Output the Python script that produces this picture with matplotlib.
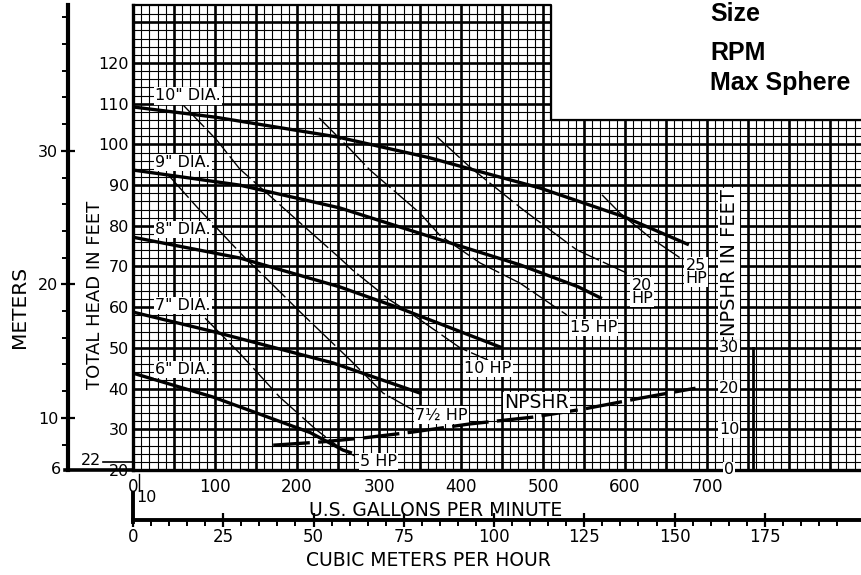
import matplotlib
matplotlib.use("Agg")
import matplotlib.pyplot as plt
import numpy as np

plt.rcParams['font.family'] = ['DejaVu Sans']

# head-capacity curve for each impeller diameter (US GPM, total head in feet)
dia_labels = ['10" DIA.', '9" DIA.', '8" DIA.', '7" DIA.', '6" DIA.']
dia_gpm = [
    [0, 100, 250, 362, 416, 496, 599, 676],
    [0, 130, 252, 374, 472, 543, 570],
    [0, 130, 252, 322, 448],
    [0, 98, 244, 350],
    [0, 98, 216, 256, 265],
]
dia_head = [
    [109.2, 106.7, 101.8, 96.7, 93.7, 89.3, 82.2, 75.5],
    [93.7, 90.0, 84.4, 76.6, 70.4, 65.0, 62.3],
    [77.2, 72.1, 65.0, 60.0, 50.2],
    [58.8, 54.0, 46.3, 38.9],
    [43.8, 37.9, 29.2, 24.9, 24.3],
]

# constant horsepower lines
hp_labels = ['5 HP', '7½ HP', '10 HP', '15 HP', '20\nHP', '25\nHP']
hp_gpm = [
    [88, 130, 179, 224, 256, 273],
    [43, 78, 139, 155, 204, 265, 305, 342],
    [61, 102, 130, 200, 252, 268, 313, 338, 399, 433],
    [227, 263, 289, 350, 374, 423, 472, 529],
    [371, 411, 476, 541, 602],
    [572, 594, 630, 671],
]
hp_head = [
    [57.3, 48.7, 37.9, 29.8, 24.9, 23.2],
    [92.5, 84.6, 71.6, 68.6, 58.8, 47.0, 38.9, 34.7],
    [109.7, 101.1, 94.0, 81.4, 72.1, 69.1, 61.8, 58.6, 50.0, 47.0],
    [106.5, 99.2, 93.7, 83.1, 77.7, 70.9, 65.9, 58.1],
    [101.8, 94.4, 83.9, 74.1, 68.4],
    [87.6, 83.1, 77.2, 71.6],
]

# NPSHR curve (feet)
npshr_gpm = [171, 230, 282, 340, 410, 488, 550, 620, 686]
npshr_ft = [6.1, 6.9, 7.9, 9.3, 11.3, 13.0, 15.0, 17.7, 20.1]

head_ticks = list(range(20, 130, 10))
gpm_ticks = list(range(0, 800, 100))
m3h_ticks = list(range(0, 200, 25))
meter_ticks = [10, 20, 30]
npshr_ticks = [0, 10, 20, 30]

# label spots
dia_lab_gpm = 27
dia_lab_head = [111.9, 95.5, 79.1, 60.4, 44.7]
hp_lab_pos = [(277, 22.0, 'left'), (344, 33.5, 'left'), (404, 45.0, 'left'),
              (533, 55.1, 'left'), (621, 63.7, 'center'), (687, 68.6, 'center')]

GPM_MAX = 889.0
HEAD_MIN, HEAD_MAX = 20.0, 134.25
STEP_GPM, STEP_HEAD = 510, 106
FT_TO_M = 0.3048
GPM_TO_M3H = 0.22712

fig = plt.figure(figsize=(8.62, 5.75), dpi=100)
ax = fig.add_axes([133 / 862, 105 / 575, 729 / 862, 465 / 575])
ax.set_xlim(0, GPM_MAX)
ax.set_ylim(HEAD_MIN, HEAD_MAX)

# graph paper: fine lines every 10 gpm / 2 ft, heavy every 50 gpm / 10 ft
for g in range(10, 890, 10):
    top = HEAD_MAX if g <= STEP_GPM else STEP_HEAD
    ax.plot([g, g], [HEAD_MIN, top], color='black',
            lw=1.9 if g % 50 == 0 else 0.8, zorder=1, solid_capstyle='butt')
for h in range(22, 134, 2):
    right = STEP_GPM if h > STEP_HEAD else GPM_MAX
    ax.plot([0, right], [h, h], color='black',
            lw=1.9 if h % 10 == 0 else 0.8, zorder=1, solid_capstyle='butt')
ax.plot([0, STEP_GPM, STEP_GPM, GPM_MAX], [HEAD_MAX, HEAD_MAX, STEP_HEAD, STEP_HEAD],
        color='black', lw=1.6, zorder=1, clip_on=False)

for s in ['top', 'right']:
    ax.spines[s].set_visible(False)
for s in ['left', 'bottom']:
    ax.spines[s].set_linewidth(2.4)

ax.set_xticks(gpm_ticks)
ax.set_yticks(head_ticks)
ax.tick_params(axis='both', length=0, labelsize=11.5)
ax.tick_params(axis='x', pad=6, labelsize=12)
ax.tick_params(axis='y', pad=3)

# curves
for gx, hy, lab, lh in zip(dia_gpm, dia_head, dia_labels, dia_lab_head):
    ax.plot(gx, hy, color='black', lw=2.4, zorder=3)
    ax.text(dia_lab_gpm, lh, lab, fontsize=11.5, ha='left', va='center', zorder=5,
            bbox=dict(facecolor='white', edgecolor='none', pad=0.8))

for gx, hy, lab, (lx, ly, ha) in zip(hp_gpm, hp_head, hp_labels, hp_lab_pos):
    ax.plot(gx, hy, color='black', lw=1.0, dashes=(22, 3), zorder=3)
    ax.text(lx, ly, lab, fontsize=11.5, ha=ha, va='center', zorder=5, linespacing=0.85,
            bbox=dict(facecolor='white', edgecolor='none', pad=0.8))

# NPSHR on its own scale (0 at the 20 ft line)
axn = ax.twinx()
axn.set_ylim(0, HEAD_MAX - HEAD_MIN)
axn.axis('off')
axn.plot(npshr_gpm, npshr_ft, color='black', lw=2.4, dashes=(11, 2.5), zorder=3)
axn.text(492, 16.5, 'NPSHR', fontsize=13.5, ha='center', va='center',
         bbox=dict(facecolor='white', edgecolor='none', pad=0.8))
axn.plot([756, 756], [0, 30], color='black', lw=2.0)
for n in npshr_ticks:
    axn.text(727, n, str(n), fontsize=11.5, ha='center', va='center',
             bbox=dict(facecolor='white', edgecolor='none', pad=0.6))
axn.text(727, 51, 'NPSHR IN FEET', fontsize=14, rotation=90, ha='center', va='center',
         bbox=dict(facecolor='white', edgecolor='none', pad=1.0))

# meters scale on the far left
sec = ax.secondary_yaxis(-65 / 729, functions=(lambda f: f * FT_TO_M, lambda m: m / FT_TO_M))
sec.set_yticks(meter_ticks)
sec.set_yticks(np.arange(8, 42, 2), minor=True)
sec.spines['left'].set_linewidth(3.0)
sec.tick_params(axis='y', which='major', direction='inout', length=10, width=1.6,
                labelsize=11.5, pad=2)
sec.tick_params(axis='y', which='minor', direction='out', length=4, width=1.4)
ax.plot([-68 / 729, 0], [0, 0], transform=ax.transAxes, color='black', lw=2.6,
        clip_on=False)
ax.text(-72 / 729, HEAD_MIN, '6', transform=ax.get_yaxis_transform(), fontsize=11.5,
        ha='right', va='center')
ax.plot([-30 / 729, 0], [22, 22], transform=ax.get_yaxis_transform(), color='black',
        lw=1.2, clip_on=False)
ax.text(-32 / 729, 22.3, '22', transform=ax.get_yaxis_transform(), fontsize=11.5,
        ha='right', va='center')

# cubic meters per hour scale below
secx = ax.secondary_xaxis(-50 / 465, functions=(lambda g: g * GPM_TO_M3H,
                                                lambda m: m / GPM_TO_M3H))
secx.set_xticks(m3h_ticks)
secx.set_xticks([m for m in range(5, 200, 5) if m % 25], minor=True)
secx.spines['bottom'].set_linewidth(2.8)
secx.tick_params(axis='x', which='major', direction='inout', length=10, width=1.6,
                 labelsize=12, pad=1)
secx.tick_params(axis='x', which='minor', direction='out', length=4.5, width=1.4)
ax.plot([0, 0], [-23 / 465, -52 / 465], transform=ax.transAxes, color='black', lw=2.8,
        clip_on=False)
ax.plot([6 / 729, 6 / 729], [-4 / 465, -20 / 465], transform=ax.transAxes, color='black',
        lw=1.0, clip_on=False)
ax.text(13 / 729, -28 / 465, '10', transform=ax.transAxes, fontsize=11.5,
        ha='center', va='center')

fig.text(436 / 862, 1 - 510 / 575, 'U.S. GALLONS PER MINUTE', fontsize=13.5,
         ha='center', va='center')
fig.text(428 / 862, 1 - 560 / 575, 'CUBIC METERS PER HOUR', fontsize=13.5,
         ha='center', va='center')
fig.text(95 / 862, 1 - 295 / 575, 'TOTAL HEAD IN FEET', fontsize=13, rotation=90,
         ha='center', va='center')
fig.text(20 / 862, 1 - 307 / 575, 'METERS', fontsize=14.5, rotation=90,
         ha='center', va='center')

for txt, base in [('Size', 21), ('RPM', 60), ('Max Sphere', 90)]:
    fig.text(710 / 862, 1 - base / 575, txt, fontsize=18, fontweight='bold',
             family='Liberation Sans', ha='left', va='baseline')

fig.savefig('out.png', dpi=100)
